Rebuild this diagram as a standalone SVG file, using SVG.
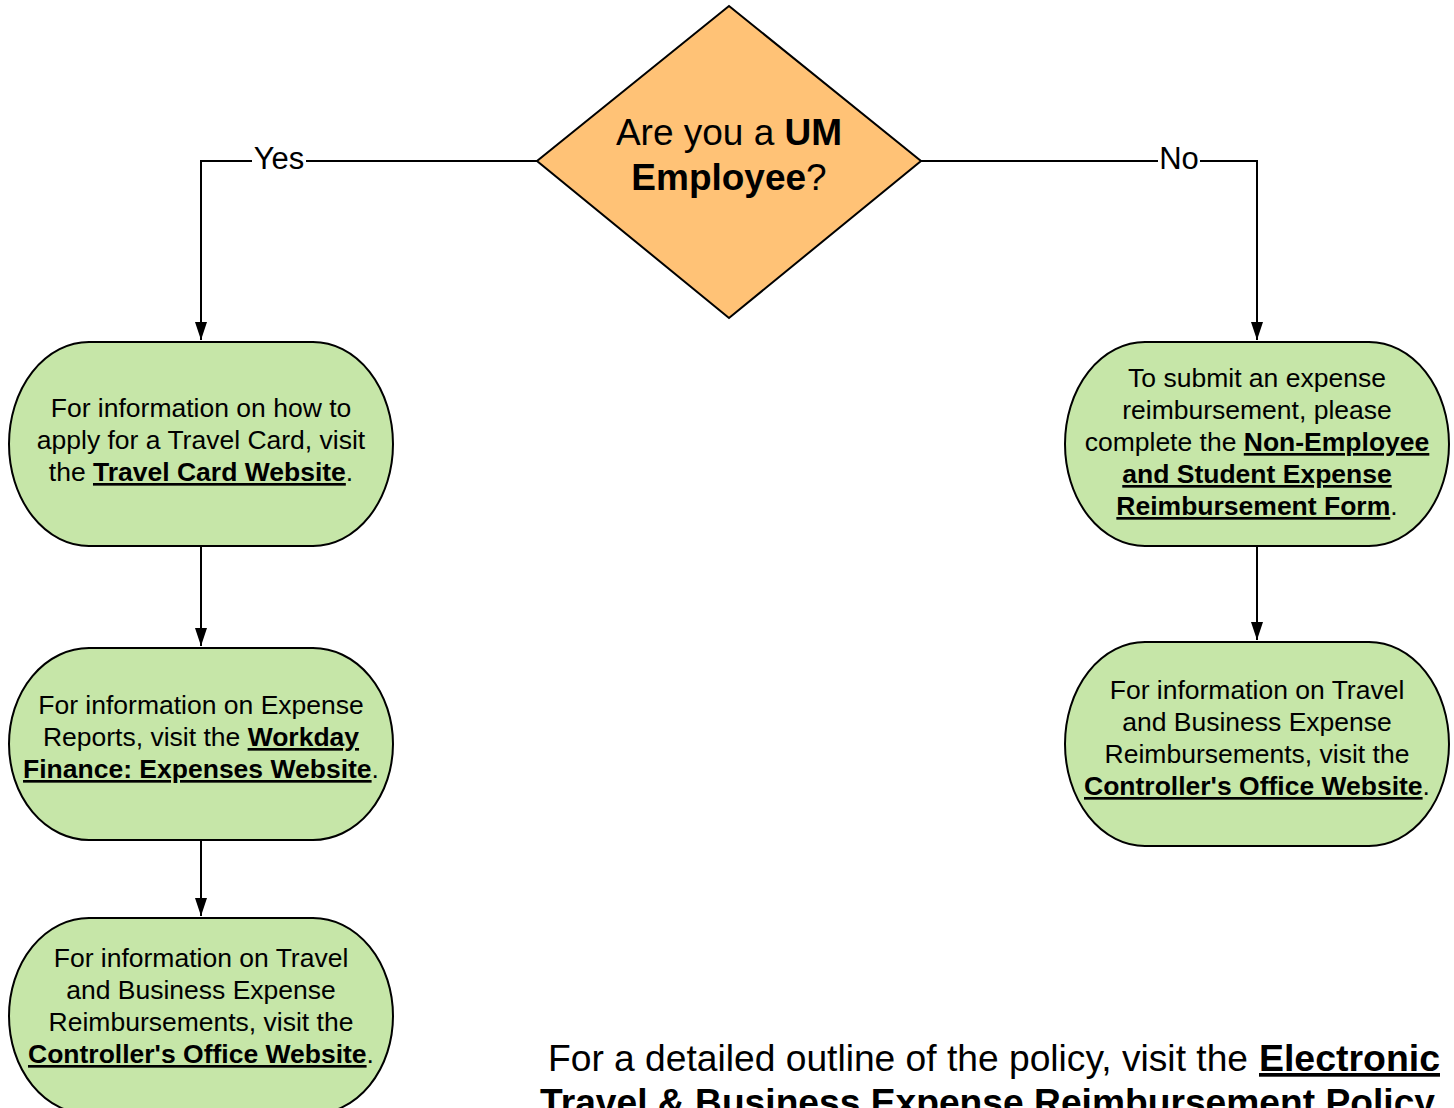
<svg xmlns="http://www.w3.org/2000/svg" width="1454" height="1108" viewBox="0 0 1454 1108">
<defs>
<marker id="arr" markerWidth="18" markerHeight="12" refX="18" refY="6" orient="auto" markerUnits="userSpaceOnUse" viewBox="0 0 18 12">
<path d="M0,0 L18,6 L0,12 Z" fill="#000"/>
</marker>
<style>
.t{font-family:"Liberation Sans",Arial,sans-serif;font-size:26.5px;fill:#000;text-anchor:middle}
.b{font-weight:bold;text-decoration:underline}
.node{fill:#c6e6a8;stroke:#000;stroke-width:2}
.edge{fill:none;stroke:#000;stroke-width:2}
.lbl{font-family:"Liberation Sans",Arial,sans-serif;font-size:31px;fill:#000;text-anchor:middle}
</style>
</defs>
<rect width="1454" height="1108" fill="#fff"/>
<g id="connectors">
<path class="edge" d="M537,161 H201 V340" marker-end="url(#arr)"/>
<path class="edge" d="M921,161 H1257 V340" marker-end="url(#arr)"/>
<path class="edge" d="M201,546 V646" marker-end="url(#arr)"/>
<path class="edge" d="M201,840 V916" marker-end="url(#arr)"/>
<path class="edge" d="M1257,546 V640" marker-end="url(#arr)"/>
<rect x="252" y="143" width="54" height="32" fill="#fff"/>
<text class="lbl" x="279" y="169">Yes</text>
<rect x="1158" y="143" width="42" height="32" fill="#fff"/>
<text class="lbl" x="1179" y="169">No</text>
</g>
<g id="decision">
<polygon points="729,6 921,161 729,318 537,161" fill="#ffc276" stroke="#000" stroke-width="2"/>
<text class="t" style="font-size:37px" x="729" y="145">Are you a <tspan font-weight="bold">UM</tspan></text>
<text class="t" style="font-size:37px" x="729" y="190"><tspan font-weight="bold">Employee</tspan>?</text>
</g>
<g id="travel-card">
<rect class="node" x="9" y="342" width="384" height="204" rx="80" ry="102"/>
<text class="t" x="201" y="417">For information on how to</text>
<text class="t" x="201" y="449">apply for a Travel Card, visit</text>
<text class="t" x="201" y="481">the <tspan class="b">Travel Card Website</tspan>.</text>
</g>
<g id="expense-reports">
<rect class="node" x="9" y="648" width="384" height="192" rx="80" ry="96"/>
<text class="t" x="201" y="714">For information on Expense</text>
<text class="t" x="201" y="746">Reports, visit the <tspan class="b">Workday</tspan></text>
<text class="t" x="201" y="778"><tspan class="b">Finance: Expenses Website</tspan>.</text>
</g>
<g id="controller-left">
<rect class="node" x="9" y="918" width="384" height="196" rx="80" ry="98"/>
<text class="t" x="201" y="967">For information on Travel</text>
<text class="t" x="201" y="999">and Business Expense</text>
<text class="t" x="201" y="1031">Reimbursements, visit the</text>
<text class="t" x="201" y="1063"><tspan class="b">Controller's Office Website</tspan>.</text>
</g>
<g id="non-employee">
<rect class="node" x="1065" y="342" width="384" height="204" rx="80" ry="102"/>
<text class="t" x="1257" y="387">To submit an expense</text>
<text class="t" x="1257" y="419">reimbursement, please</text>
<text class="t" x="1257" y="451">complete the <tspan class="b">Non-Employee</tspan></text>
<text class="t" x="1257" y="483"><tspan class="b">and Student Expense</tspan></text>
<text class="t" x="1257" y="515"><tspan class="b">Reimbursement Form</tspan>.</text>
</g>
<g id="controller-right">
<rect class="node" x="1065" y="642" width="384" height="204" rx="80" ry="102"/>
<text class="t" x="1257" y="699">For information on Travel</text>
<text class="t" x="1257" y="731">and Business Expense</text>
<text class="t" x="1257" y="763">Reimbursements, visit the</text>
<text class="t" x="1257" y="795"><tspan class="b">Controller's Office Website</tspan>.</text>
</g>
<g id="policy-note" font-family="'Liberation Sans',Arial,sans-serif" font-size="37" fill="#000">
<text x="548" y="1071" textLength="700" lengthAdjust="spacingAndGlyphs">For a detailed outline of the policy, visit the</text>
<text x="1259" y="1071" font-weight="bold" text-decoration="underline" textLength="181" lengthAdjust="spacingAndGlyphs">Electronic</text>
<text x="540" y="1115" font-weight="bold" text-decoration="underline" textLength="895" lengthAdjust="spacingAndGlyphs">Travel &amp; Business Expense Reimbursement Policy</text>
</g>
</svg>
